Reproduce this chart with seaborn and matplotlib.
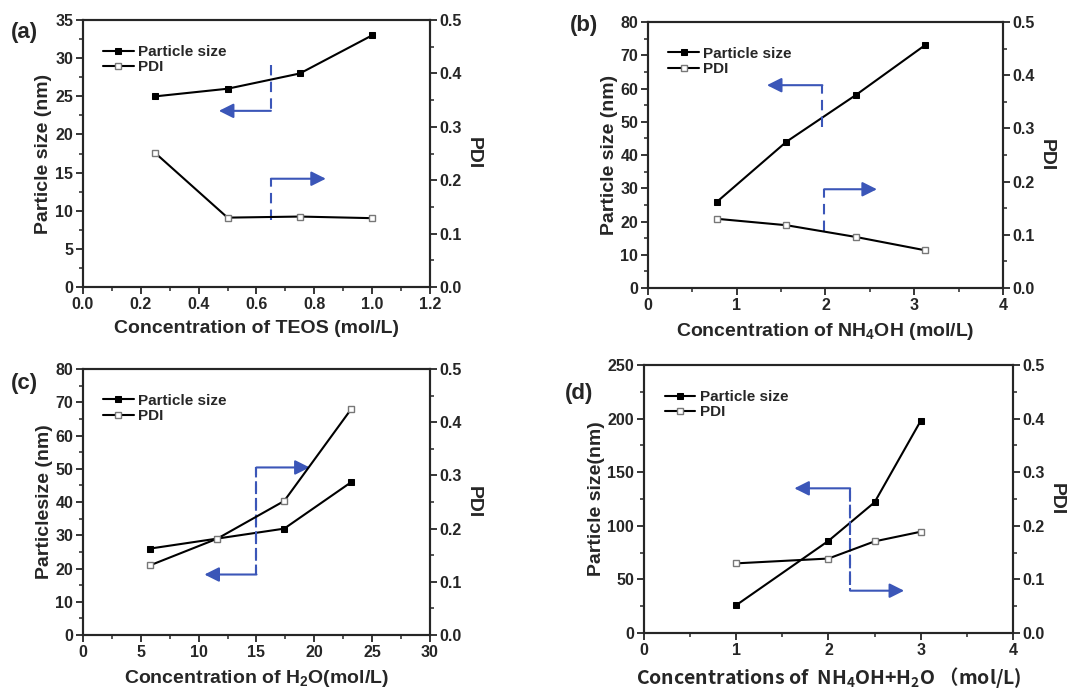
import matplotlib
matplotlib.use('Agg')
import matplotlib.pyplot as plt
from matplotlib.ticker import MultipleLocator
import seaborn as sns

# (a) TEOS series
teos_conc = [0.25, 0.5, 0.75, 1.0]
teos_size = [25, 26, 28, 33]
teos_pdi = [0.251, 0.130, 0.132, 0.129]

# (b) NH4OH series
nh4oh_conc = [0.78, 1.56, 2.34, 3.12]
nh4oh_size = [26, 44, 58, 73]
nh4oh_pdi = [0.130, 0.118, 0.096, 0.071]

# (c) H2O series
h2o_conc = [5.8, 11.6, 17.4, 23.2]
h2o_size = [26, 29, 32, 46]
h2o_pdi = [0.131, 0.181, 0.252, 0.425]

# (d) NH4OH + H2O series
mix_conc = [1.0, 2.0, 2.5, 3.0]
mix_size = [26, 86, 122, 198]
mix_pdi = [0.130, 0.139, 0.171, 0.189]

sns.set_style('ticks')
plt.rcParams['font.family'] = ['Liberation Sans', 'Noto Sans CJK SC', 'DejaVu Sans']
plt.rcParams['font.weight'] = 'bold'
plt.rcParams['axes.labelweight'] = 'bold'
plt.rcParams['mathtext.default'] = 'regular'
plt.rcParams['axes.linewidth'] = 1.5

BLUE = '#3b56b8'

fig = plt.figure(figsize=(10.69, 6.88), dpi=100)

# panel settings: axes rect, x range/step, y range/step, labels, guide arrows
panels = [
    dict(tag='(a)', rect=[0.0776, 0.5828, 0.3246, 0.388], x=teos_conc, size=teos_size, pdi=teos_pdi,
         xlim=(0, 1.2), xstep=0.2, ylim=(0, 35), ystep=5, xfmt='{:.1f}',
         xlabel='Concentration of TEOS (mol/L)', ylabel='Particle size (nm)', xfont=None,
         guides=[(0.65, 29.1, 23.1, 0.47), (0.65, 8.8, 14.2, 0.84)],
         tagpos=(0.010, 0.945)),
    dict(tag='(b)', rect=[0.6062, 0.5814, 0.332, 0.3866], x=nh4oh_conc, size=nh4oh_size, pdi=nh4oh_pdi,
         xlim=(0, 4), xstep=1, ylim=(0, 80), ystep=10, xfmt='{:.0f}',
         xlabel='Concentration of NH$_4$OH (mol/L)', ylabel='Particle size (nm)', xfont=None,
         guides=[(1.965, 48.5, 61, 1.34), (1.985, 17.2, 29.7, 2.58)],
         tagpos=(0.533, 0.955)),
    dict(tag='(c)', rect=[0.0776, 0.077, 0.3246, 0.3866], x=h2o_conc, size=h2o_size, pdi=h2o_pdi,
         xlim=(0, 30), xstep=5, ylim=(0, 80), ystep=10, xfmt='{:.0f}',
         xlabel='Concentration of H$_2$O(mol/L)', ylabel='Particlesize (nm)', xfont=None,
         guides=[(15.0, 18.2, 50.4, 19.6), (15.0, 50.4, 18.2, 10.5)],
         tagpos=(0.010, 0.435)),
    dict(tag='(d)', rect=[0.6024, 0.0799, 0.3452, 0.3895], x=mix_conc, size=mix_size, pdi=mix_pdi,
         xlim=(0, 4), xstep=1, ylim=(0, 250), ystep=50, xfmt='{:.0f}',
         xlabel='Concentrations of  NH$_4$OH+H$_2$O \uff08mol/L)', ylabel='Particle size(nm)',
         xfont='Noto Sans CJK SC',
         guides=[(2.235, 45, 135, 1.63), (2.235, 135, 39.5, 2.82)],
         tagpos=(0.528, 0.42)),
]

for p in panels:
    ax = fig.add_axes(p['rect'])
    ax2 = ax.twinx()

    sns.lineplot(x=p['x'], y=p['size'], ax=ax, color='black', lw=1.5, marker='s',
                 markersize=5, markerfacecolor='black', markeredgecolor='black',
                 label='Particle size', legend=False)
    sns.lineplot(x=p['x'], y=p['pdi'], ax=ax2, color='black', lw=1.5, marker='s',
                 markersize=5, markerfacecolor='white', markeredgecolor='#777777',
                 markeredgewidth=1, label='PDI', legend=False)
    for a in (ax, ax2):
        if a.get_legend() is not None:
            a.get_legend().remove()

    ax.set_xlim(*p['xlim'])
    ax.set_ylim(*p['ylim'])
    ax2.set_ylim(0, 0.5)
    ax.xaxis.set_major_locator(MultipleLocator(p['xstep']))
    ax.xaxis.set_minor_locator(MultipleLocator(p['xstep'] / 2))
    ax.yaxis.set_major_locator(MultipleLocator(p['ystep']))
    ax.yaxis.set_minor_locator(MultipleLocator(p['ystep'] / 2))
    ax2.yaxis.set_major_locator(MultipleLocator(0.1))
    ax2.yaxis.set_minor_locator(MultipleLocator(0.05))
    ax.xaxis.set_major_formatter(matplotlib.ticker.FuncFormatter(lambda v, _, f=p['xfmt']: f.format(v)))
    ax2.yaxis.set_major_formatter(matplotlib.ticker.FormatStrFormatter('%.1f'))

    for a in (ax, ax2):
        a.tick_params(which='major', direction='out', length=5, width=1.3, labelsize=11.5, pad=2)
        a.tick_params(which='minor', direction='out', length=3, width=1.1)
        for s in a.spines.values():
            s.set_visible(True)
            s.set_linewidth(1.5)

    if p['xfont']:
        ax.set_xlabel(p['xlabel'], fontsize=14, labelpad=5, family=p['xfont'], fontweight='bold')
    else:
        ax.set_xlabel(p['xlabel'], fontsize=14, labelpad=6)
    ax.set_ylabel(p['ylabel'], fontsize=14, labelpad=2)
    ax2.set_ylabel('PDI', fontsize=14, rotation=270, labelpad=14)

    # guide arrows showing which axis each curve belongs to
    for xg, y_from, y_to, x_tip in p['guides']:
        ax.plot([xg, xg], [y_from, y_to], color=BLUE, lw=1.5, ls=(0, (5, 3)))
        ax.annotate('', xy=(x_tip, y_to), xytext=(xg, y_to),
                    arrowprops=dict(arrowstyle='-|>', color=BLUE, lw=1.5,
                                    mutation_scale=22, shrinkA=0, shrinkB=0))

    h1, l1 = ax.get_legend_handles_labels()
    h2, l2 = ax2.get_legend_handles_labels()
    ax2.legend(h1 + h2, l1 + l2, loc='upper left', bbox_to_anchor=(0.04, 0.93),
               frameon=False, fontsize=11, handlelength=2.0, handletextpad=0.3,
               labelspacing=0.1, borderaxespad=0, markerscale=0.8)

    fig.text(p['tagpos'][0], p['tagpos'][1], p['tag'], fontsize=16, fontweight='bold')

fig.savefig('out.png', dpi=100)
